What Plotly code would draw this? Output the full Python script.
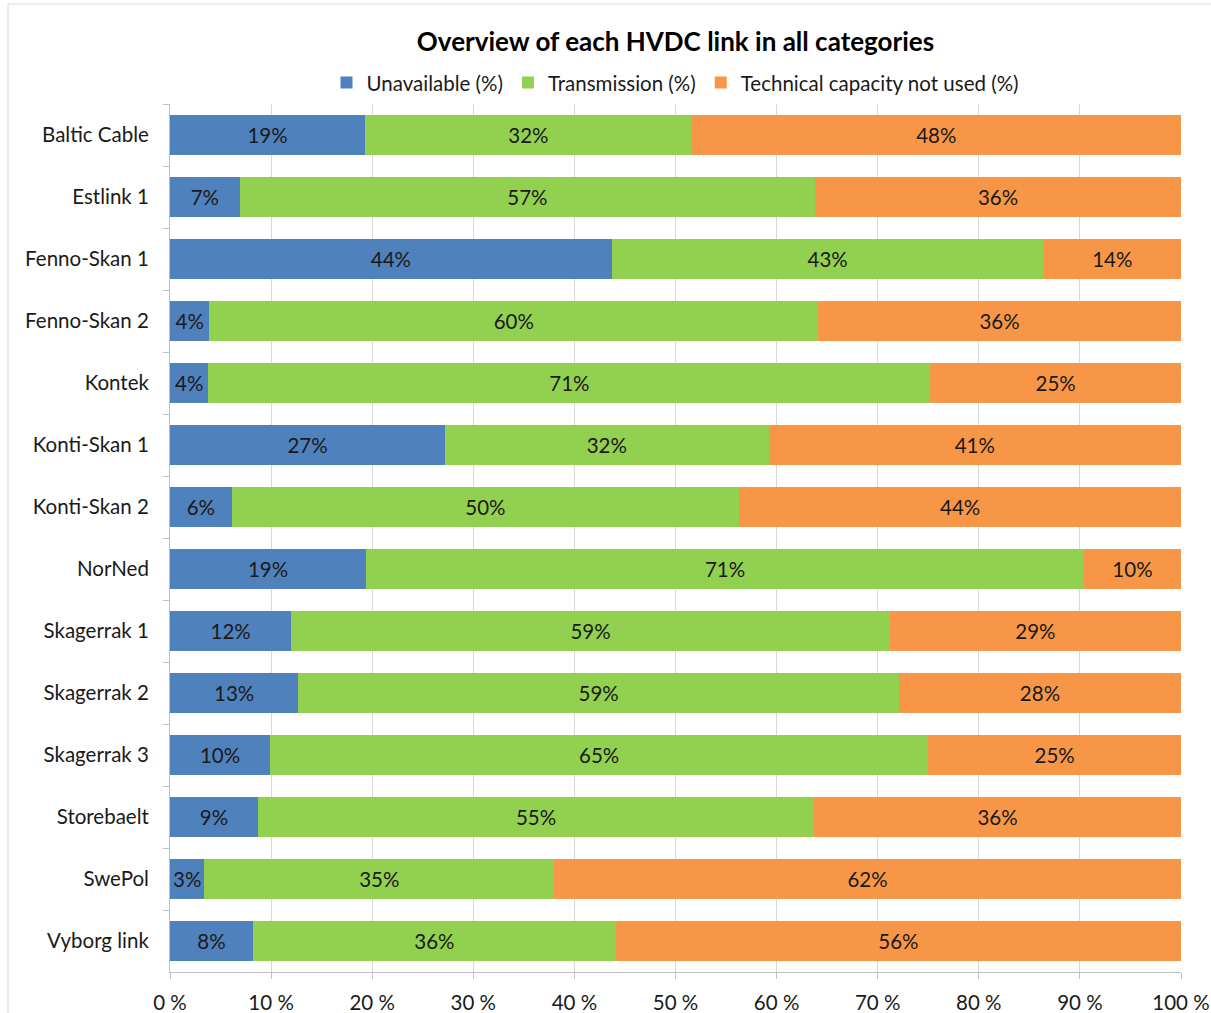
import plotly.graph_objects as go

links = ["Baltic Cable", "Estlink 1", "Fenno-Skan 1", "Fenno-Skan 2", "Kontek",
         "Konti-Skan 1", "Konti-Skan 2", "NorNed", "Skagerrak 1", "Skagerrak 2",
         "Skagerrak 3", "Storebaelt", "SwePol", "Vyborg link"]
unavailable = [19.3, 6.9, 43.7, 3.9, 3.8, 27.2, 6.1, 19.4, 12.0, 12.7, 9.9, 8.7, 3.4, 8.2]
transmission = [32.3, 56.9, 42.7, 60.2, 71.4, 32.0, 50.2, 71.0, 59.2, 59.4, 65.1, 55.0, 34.6, 35.9]
not_used = [48.4, 36.2, 13.6, 35.9, 24.8, 40.8, 43.7, 9.6, 28.8, 27.9, 25.0, 36.3, 62.0, 55.9]
series_names = ["Unavailable (%)", "Transmission (%)", "Technical capacity not used (%)"]
colors = ["#4F81BD", "#92D050", "#F79646"]
x_ticks = list(range(0, 101, 10))

FONT = "Lato"
FS = 20.5
fig = go.Figure()
for name, vals, col in zip(series_names, [unavailable, transmission, not_used], colors):
    fig.add_trace(go.Bar(
        y=links, x=vals, name=name, orientation="h",
        marker=dict(color=col, line=dict(width=0)),
        text=[f"{round(v)}%" for v in vals],
        textposition="inside", insidetextanchor="middle",
        constraintext="none",
        textfont=dict(family=FONT, size=FS, color="#1a1a1a"),
        hoverinfo="skip",
    ))

fig.update_layout(
    barmode="stack",
    bargap=0.35,
    width=1211, height=1013,
    margin=dict(l=170, r=30, t=104, b=41, autoexpand=False),
    paper_bgcolor="white", plot_bgcolor="white",
    font=dict(family=FONT, size=FS, color="#1a1a1a"),
    title=dict(text="<b>Overview of each HVDC link in all categories</b>",
               x=0.5, xref="paper", xanchor="center",
               y=1 - 42 / 1013, yanchor="middle",
               font=dict(family=FONT, size=26, color="#000000")),
    legend=dict(orientation="h", x=0.5, xanchor="center", y=1.0245, yanchor="middle",
                font=dict(family=FONT, size=FS, color="#1a1a1a"),
                traceorder="normal", itemsizing="constant", itemwidth=30,
                bgcolor="rgba(0,0,0,0)"),
    xaxis=dict(range=[0, 100], tickvals=x_ticks, ticktext=[f"{t} %" for t in x_ticks],
               showgrid=True, gridcolor="#d9d9d9", gridwidth=1,
               showline=True, linecolor="#bfbfbf", linewidth=1,
               ticks="outside", ticklen=6, tickcolor="#bfbfbf",
               ticklabelstandoff=6,
               zeroline=False, fixedrange=True),
    yaxis=dict(autorange="reversed", categoryorder="array", categoryarray=links,
               showline=True, linecolor="#bfbfbf", linewidth=1,
               ticks="outside", ticklen=6, tickcolor="#bfbfbf", tickson="boundaries",
               ticklabelstandoff=16, showgrid=False),
    shapes=[dict(type="rect", xref="paper", yref="paper",
                 x0=(8 - 170) / 1011, x1=(1215 - 170) / 1011,
                 y0=-(1020 - 972) / 868, y1=(972 - 4) / 868,
                 line=dict(color="#d9d9d0", width=1), fillcolor="rgba(0,0,0,0)",
                 layer="below")],
)

fig.write_html("out.html")
